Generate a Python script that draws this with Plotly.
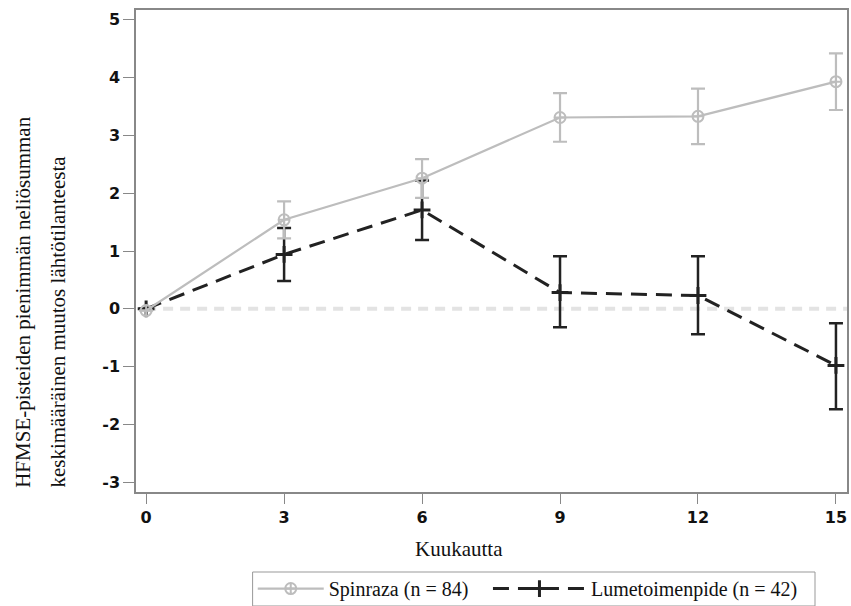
import plotly.graph_objects as go

months = [0, 3, 6, 9, 12, 15]

spinraza_mean = [-0.03, 1.54, 2.26, 3.31, 3.33, 3.93]
spinraza_upper = [-0.03, 1.86, 2.59, 3.73, 3.81, 4.42]
spinraza_lower = [-0.03, 1.22, 1.92, 2.89, 2.85, 3.44]

sham_mean = [0.0, 0.94, 1.71, 0.28, 0.23, -0.98]
sham_upper = [0.0, 1.40, 2.22, 0.91, 0.91, -0.25]
sham_lower = [0.0, 0.48, 1.19, -0.32, -0.44, -1.74]

x_ticks = [0, 3, 6, 9, 12, 15]
x_tick_labels = ["0", "3", "6", "9", "12", "15"]
y_ticks = [-3, -2, -1, 0, 1, 2, 3, 4, 5]
y_tick_labels = ["-3", "-2", "-1", "0", "1", "2", "3", "4", "5"]

label_spinraza = "Spinraza (n = 84)"
label_sham = "Lumetoimenpide (n = 42)"
x_title = "Kuukautta"
y_title_1 = "HFMSE-pisteiden pienimmän neliösumman"
y_title_2 = "keskimääräinen muutos lähtötilanteesta"

GRAY = "#bdbdbd"
BLACK = "#222222"
SERIF = "Liberation Serif"
TICKFONT = dict(family="DejaVu Sans", size=16, color="#111111", weight="bold")
LEGFONT = dict(family=SERIF, size=20, color="#111111")

x_range = [-0.22, 15.24]
y_range = [-3.17, 5.17]

fig = go.Figure()

fig.add_trace(go.Scatter(
    x=months, y=sham_mean, mode="lines+markers", name=label_sham,
    legend="legend2",
    line=dict(color=BLACK, width=3, dash="16px,9px"),
    marker=dict(symbol="cross-thin", size=12, line=dict(color=BLACK, width=3), color=BLACK),
    error_y=dict(type="data", symmetric=False,
                 array=[u - m for u, m in zip(sham_upper, sham_mean)],
                 arrayminus=[m - l for m, l in zip(sham_mean, sham_lower)],
                 color=BLACK, thickness=2.5, width=7),
))

fig.add_trace(go.Scatter(
    x=months, y=spinraza_mean, mode="lines+markers", name=label_spinraza,
    legend="legend",
    line=dict(color=GRAY, width=2.2),
    marker=dict(symbol="circle-cross-open", size=11, color=GRAY, line=dict(color=GRAY, width=2)),
    error_y=dict(type="data", symmetric=False,
                 array=[u - m for u, m in zip(spinraza_upper, spinraza_mean)],
                 arrayminus=[m - l for m, l in zip(spinraza_mean, spinraza_lower)],
                 color=GRAY, thickness=2.2, width=7),
))

fig.add_shape(type="line", xref="x", yref="y", x0=0, x1=x_range[1], y0=0, y1=0,
              line=dict(color="#e3e3e3", width=4, dash="10px,7px"), layer="below")

# legend frame
fig.add_shape(type="rect", xref="paper", yref="paper", x0=0.164, x1=0.955,
              y0=-0.2365, y1=-0.166, line=dict(color="#999999", width=1),
              fillcolor="rgba(0,0,0,0)")

fig.update_xaxes(range=x_range, tickvals=x_ticks, ticktext=x_tick_labels,
                 ticks="outside", ticklen=10,
                 tickcolor="#888888", tickwidth=1, showgrid=False, zeroline=False,
                 showline=True, linecolor="#888888", linewidth=1.5, mirror=True,
                 tickfont=TICKFONT)
fig.update_yaxes(range=y_range, tickvals=y_ticks, ticktext=y_tick_labels,
                 ticks="outside", ticklen=11,
                 tickcolor="#888888", tickwidth=1, showgrid=False, zeroline=False,
                 showline=True, linecolor="#888888", linewidth=1.5, mirror=True,
                 tickfont=TICKFONT)

fig.add_annotation(text=y_title_1, xref="paper", yref="paper", x=-0.160, y=0.004,
                   xanchor="center", yanchor="bottom", textangle=-90, showarrow=False,
                   font=dict(family=SERIF, size=21, color="#111111"))
fig.add_annotation(text=y_title_2, xref="paper", yref="paper", x=-0.109, y=0.004,
                   xanchor="center", yanchor="bottom", textangle=-90, showarrow=False,
                   font=dict(family=SERIF, size=21, color="#111111"))
fig.add_annotation(text=x_title, xref="paper", yref="paper", x=0.454, y=-0.118,
                   xanchor="center", yanchor="middle", showarrow=False,
                   font=dict(family=SERIF, size=21, color="#111111"))

fig.update_layout(
    width=851, height=606,
    margin=dict(l=136, r=2, t=10, b=114),
    paper_bgcolor="white", plot_bgcolor="white",
    showlegend=True,
    legend=dict(orientation="h", xref="container", yref="container",
                x=0.297, y=0.061, xanchor="left", yanchor="top",
                borderwidth=0, itemwidth=66, font=LEGFONT,
                bgcolor="rgba(0,0,0,0)"),
    legend2=dict(orientation="h", xref="container", yref="container",
                 x=0.5734, y=0.061, xanchor="left", yanchor="top",
                 borderwidth=0, itemwidth=93, font=LEGFONT,
                 bgcolor="rgba(0,0,0,0)"),
)

fig.write_html("out.html", config={"displayModeBar": False},
               post_script="document.body.style.margin='0';document.body.style.overflow='hidden';")
